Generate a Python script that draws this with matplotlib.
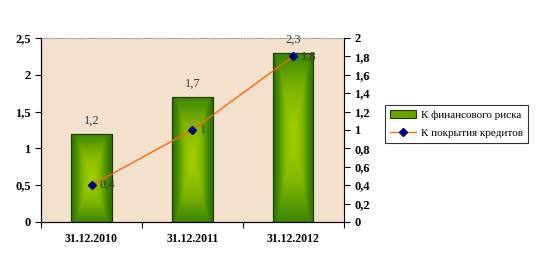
import numpy as np
import matplotlib.pyplot as plt
from matplotlib.ticker import FuncFormatter
from matplotlib.colors import LinearSegmentedColormap

categories = ['31.12.2010', '31.12.2011', '31.12.2012']
fin_risk = [1.2, 1.7, 2.3]
coverage = [0.4, 1.0, 1.8]
fin_labels = ['1,2', '1,7', '2,3']
cov_labels = ['0,4', '1', '1,8']

plt.rcParams['font.family'] = ['Liberation Serif', 'DejaVu Serif']


def comma(v, pos):
    s = ('%.1f' % v).rstrip('0').rstrip('.')
    return s.replace('.', ',')


fig = plt.figure(figsize=(5.48, 2.63), dpi=100)
ax = fig.add_axes([0.075, 0.156, 0.552, 0.7])
ax.set_facecolor('#f4e1cd')
x = np.arange(len(categories))
w = 0.4

cmap = LinearSegmentedColormap.from_list('g', ['#a2cc00', '#7db300', '#438c06', '#2b7000'])
gx = np.linspace(-1, 1, 60)
gy = np.linspace(-1, 1, 120)
GX, GY = np.meshgrid(gx, gy)
grad = np.maximum(np.abs(GX), np.abs(GY) * 0.8) ** 1.4

bars = ax.bar(x, fin_risk, w, color='#6aa300', edgecolor='#1f3a00', linewidth=0.8,
              zorder=2, label='К финансового риска')
for b in bars:
    x0, y0 = b.get_x(), b.get_y()
    im = ax.imshow(grad, cmap=cmap, extent=[x0, x0 + b.get_width(), y0, y0 + b.get_height()],
                   aspect='auto', zorder=2.5, interpolation='bilinear')
    im.set_clip_path(b)
    ax.add_patch(plt.Rectangle((x0, y0), b.get_width(), b.get_height(), fill=False,
                               edgecolor='#1f3a00', linewidth=0.8, zorder=3))
for xi, v, t in zip(x, fin_risk, fin_labels):
    ax.text(xi, v + 0.1, t, ha='center', va='bottom', fontsize=9, color='#2c3e50', zorder=5)

ax.set_xlim(-0.5, 2.5)
ax.set_ylim(0, 2.5)
ax.set_yticks(np.arange(0, 2.51, 0.5))
ax.yaxis.set_major_formatter(FuncFormatter(comma))
ax.set_xticks([-0.5, 0.5, 1.5, 2.5])
ax.set_xticklabels([])
ax.set_xticks(x, minor=True)
ax.set_xticklabels(categories, minor=True, fontweight='bold', fontsize=8.5)
ax.tick_params(axis='x', which='minor', length=0, pad=8)
ax.tick_params(axis='x', which='major', length=4, direction='out')
ax.tick_params(axis='y', length=4, labelsize=9, width=0.8)
for lab in ax.get_yticklabels():
    lab.set_fontweight('bold')
ax.spines['top'].set_color('#999999')
ax.spines['top'].set_linestyle(':')
ax.spines['right'].set_visible(False)

ax2 = ax.twinx()
ax2.plot(x, coverage, color='#ff6600', linewidth=1, marker='D', markersize=4.5,
         markerfacecolor='#000080', markeredgecolor='#000080', zorder=4,
         label='К покрытия кредитов')
for xi, v, t in zip(x, coverage, cov_labels):
    ax2.text(xi + 0.08, v, t, ha='left', va='center', fontsize=9, color='#333333')
ax2.set_ylim(0, 2)
ax2.set_yticks(np.arange(0, 2.01, 0.2))
ax2.yaxis.set_major_formatter(FuncFormatter(comma))
ax2.tick_params(axis='y', length=4, labelsize=9, width=0.8)
for lab in ax2.get_yticklabels():
    lab.set_fontweight('bold')
ax2.spines['top'].set_visible(False)

h1, l1 = ax.get_legend_handles_labels()
h2, l2 = ax2.get_legend_handles_labels()
leg = fig.legend(h1 + h2, l1 + l2, loc='upper left', bbox_to_anchor=(0.703, 0.6),
                 fontsize=8, frameon=True, fancybox=False, edgecolor='black',
                 handlelength=2.3, handletextpad=0.5, borderpad=0.45,
                 borderaxespad=0, labelspacing=0.7)
leg.get_frame().set_linewidth(0.8)

fig.savefig('out.png', dpi=100)
